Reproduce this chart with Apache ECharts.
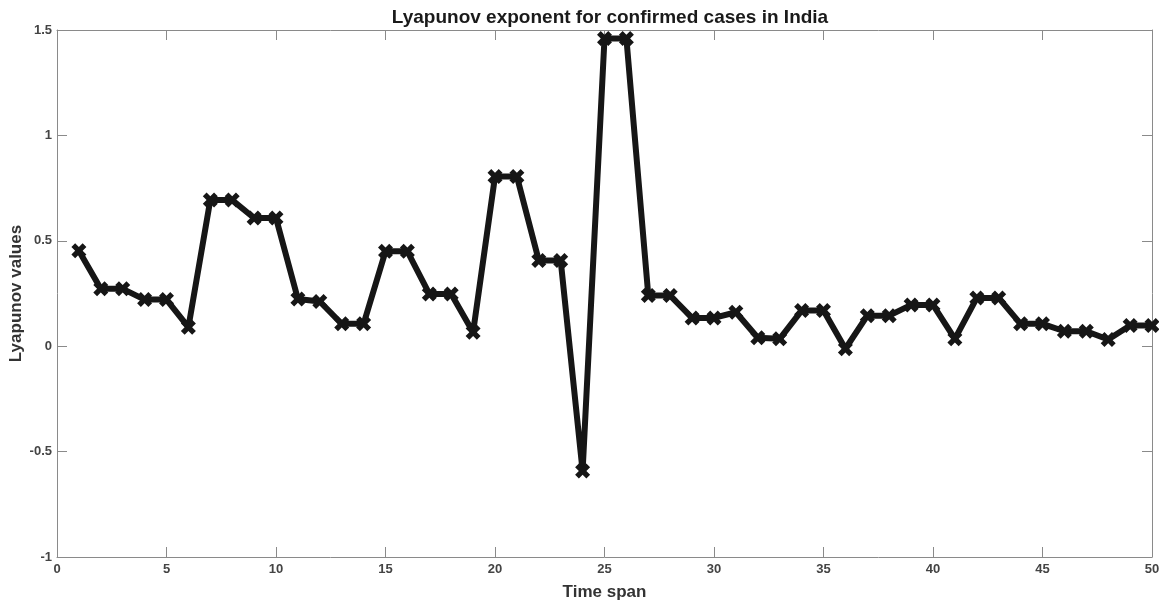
<!DOCTYPE html>
<html>
<head>
<meta charset="utf-8">
<script src="https://cdn.jsdelivr.net/npm/echarts@6/dist/echarts.min.js"></script>
<style>
  html, body { margin: 0; padding: 0; background: #fff; }
  #main { width: 1159px; height: 601px; }
</style>
</head>
<body>
<div id="main"></div>
<script>
// time span index 1..50
var timeSpan = [];
for (var i = 1; i <= 50; i++) timeSpan.push(i);

var lyapunov = [
  0.453, 0.272, 0.272, 0.221, 0.221, 0.090, 0.693, 0.693, 0.608, 0.608,
  0.224, 0.212, 0.106, 0.106, 0.450, 0.450, 0.248, 0.248, 0.066, 0.805,
  0.805, 0.406, 0.406, -0.592, 1.460, 1.460, 0.240, 0.240, 0.134, 0.134,
  0.161, 0.040, 0.035, 0.169, 0.169, -0.012, 0.145, 0.145, 0.196, 0.196,
  0.035, 0.229, 0.229, 0.106, 0.106, 0.071, 0.071, 0.032, 0.098, 0.098
];

var xTicks = [0, 5, 10, 15, 20, 25, 30, 35, 40, 45, 50];
var yTicks = [-1, -0.5, 0, 0.5, 1, 1.5];

var chart = echarts.init(document.getElementById('main'));

var axisGray = '#8a8a8a';
var labelStyle = { color: '#444', fontFamily: 'Liberation Sans', fontWeight: 'bold', fontSize: 13 };

var option = {
  backgroundColor: '#fff',
  animation: false,
  title: {
    text: 'Lyapunov exponent for confirmed cases in India',
    left: 605, top: 3, textAlign: 'center',
    textStyle: { fontFamily: 'Liberation Sans', fontWeight: 'bold', fontSize: 19, color: '#1a1a1a' }
  },
  grid: { left: 57, right: 7, top: 30, bottom: 44, containLabel: false, outerBoundsMode: 'none' },
  xAxis: [{
    type: 'value', min: 0, max: 50, interval: 5,
    name: 'Time span', nameLocation: 'middle', nameGap: 27, nameMoveOverlap: false,
    nameTextStyle: { fontFamily: 'Liberation Sans', fontWeight: 'bold', fontSize: 17, color: '#333' },
    axisLine: { onZero: false, lineStyle: { color: axisGray, width: 1 } },
    axisTick: { inside: true, length: 10, lineStyle: { color: axisGray } },
    axisLabel: Object.assign({ margin: 6 }, labelStyle),
    splitLine: { show: false }
  }, {
    type: 'value', min: 0, max: 50, interval: 5, position: 'top',
    axisLine: { onZero: false, lineStyle: { color: axisGray, width: 1 } },
    axisTick: { inside: true, length: 10, lineStyle: { color: axisGray } },
    axisLabel: { show: false },
    splitLine: { show: false }
  }],
  yAxis: [{
    type: 'value', min: -1, max: 1.5, interval: 0.5,
    name: 'Lyapunov values', nameLocation: 'middle', nameGap: 32, nameMoveOverlap: false,
    nameTextStyle: { fontFamily: 'Liberation Sans', fontWeight: 'bold', fontSize: 17, color: '#333' },
    axisLine: { show: true, onZero: false, lineStyle: { color: axisGray, width: 1 } },
    axisTick: { show: true, inside: true, length: 10, lineStyle: { color: axisGray } },
    axisLabel: Object.assign({ margin: 5 }, labelStyle),
    splitLine: { show: false }
  }, {
    type: 'value', min: -1, max: 1.5, interval: 0.5, position: 'right',
    axisLine: { show: true, onZero: false, lineStyle: { color: axisGray, width: 1 } },
    axisTick: { show: true, inside: true, length: 10, lineStyle: { color: axisGray } },
    axisLabel: { show: false },
    splitLine: { show: false }
  }],
  series: [{
    type: 'line',
    data: timeSpan.map(function (t, k) { return [t, lyapunov[k]]; }),
    symbol: 'path://M0,2.5 L2.5,0 L5,2.5 L7.5,0 L10,2.5 L7.5,5 L10,7.5 L7.5,10 L5,7.5 L2.5,10 L0,7.5 L2.5,5 Z',
    symbolSize: 15,
    itemStyle: { color: '#161616' },
    lineStyle: { color: '#161616', width: 6, join: 'round' },
    clip: false
  }]
};

chart.setOption(option);
</script>
</body>
</html>
